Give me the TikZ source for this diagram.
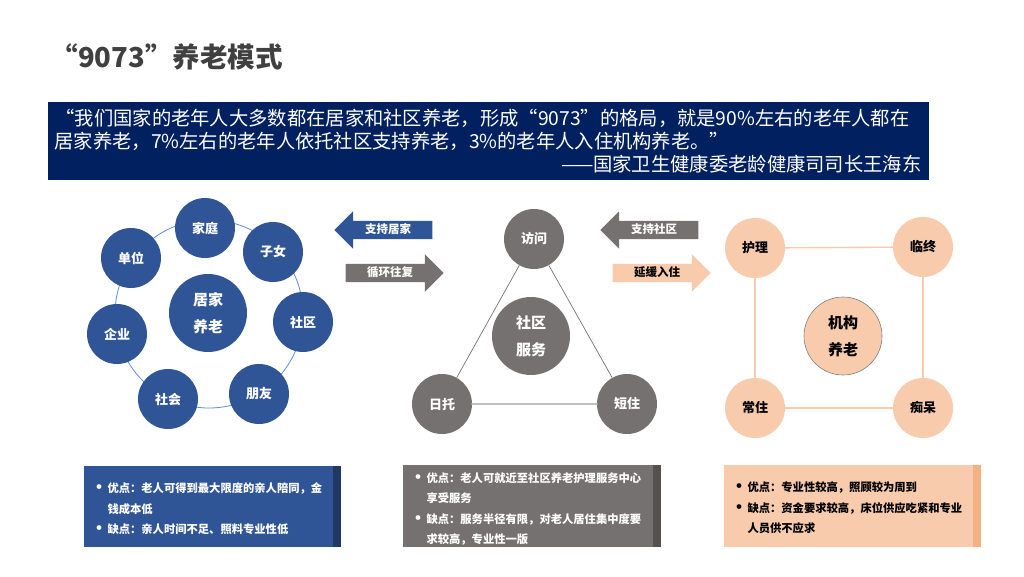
\documentclass[tikz,border=0pt]{standalone}
\usepackage{fontspec}
\setmainfont{Noto Sans CJK SC}
\usetikzlibrary{shapes.arrows}

\definecolor{navy}{HTML}{002060}
\definecolor{titlegray}{HTML}{404040}
\definecolor{homeblue}{HTML}{2F5597}
\definecolor{homedark}{HTML}{203864}
\definecolor{ringblue}{HTML}{5A8CEB}
\definecolor{commgray}{HTML}{767171}
\definecolor{commdark}{HTML}{545151}
\definecolor{commline}{HTML}{BFBFBF}
\definecolor{instpeach}{HTML}{F8CBAD}
\definecolor{instdark}{HTML}{F4B183}

\newcommand{\notebullet}{\makebox[17pt][l]{\fontsize{17}{20.5}\selectfont\raisebox{-1pt}{\textbullet}}}

\begin{document}
\begin{tikzpicture}[
    x=1pt,y=-1pt,
    line cap=round,
    line join=round,
    ball/.style={circle,inner sep=0pt,minimum size=60pt,
        font=\fontsize{13}{16}\selectfont\bfseries},
    hub/.style={circle,inner sep=0pt,minimum size=78pt,align=center,
        font=\fontsize{15}{27}\selectfont\bfseries},
    homeball/.style={ball,fill=homeblue,text=white},
    commball/.style={ball,fill=commgray,text=white},
    instball/.style={ball,fill=instpeach,text=black},
    ring/.style={draw=ringblue,line width=0.8pt},
    commedge/.style={draw=commgray,line width=0.7pt},
    commbase/.style={draw=commline,line width=2pt},
    instedge/.style={draw=instpeach,line width=1.4pt},
    flow/.style={single arrow,single arrow head extend=9.5pt,
        single arrow head indent=0pt,minimum height=98pt,
        inner xsep=0pt,inner ysep=4pt,text height=8pt,text depth=2pt,
        font=\fontsize{11.5}{14}\selectfont\bfseries},
    flowleft/.style={flow,shape border rotate=180},
    notes/.style={anchor=west,align=left,
        font=\fontsize{11.3}{20.5}\selectfont\bfseries},
]
\useasboundingbox (0,0) rectangle (1024,576);

% title and quote
\node[anchor=west,text=titlegray,font=\fontsize{27.5}{32}\selectfont\bfseries]
    (title) at (47,57) {“9073”养老模式};

\fill[navy] (48,102) rectangle (929,180);
\begin{scope}[every node/.style={text=white,font=\fontsize{19.3}{22}\selectfont}]
    \node[anchor=west] (quoteA) at (52,118)
        {“我们国家的老年人大多数都在居家和社区养老，形成“9073”的格局，就是90\%左右的老年人都在};
    \node[anchor=west] (quoteB) at (51,141)
        {居家养老，7\%左右的老年人依托社区支持养老，3\%的老年人入住机构养老。”};
    \node[anchor=east] (quoteC) at (925,164)
        {——国家卫生健康委老龄健康司司长王海东};
\end{scope}

% home care
\begin{scope}
    \draw[ring] (209,314) circle (94);

    \node[hub,fill=homeblue,text=white] (homehub) at (208,313) {居家\\养老};
    \node[homeball] (family) at (205,228) {家庭};
    \node[homeball] (kids) at (273,252) {子女};
    \node[homeball] (district) at (303,322) {社区};
    \node[homeball] (friends) at (259,394) {朋友};
    \node[homeball] (society) at (168,399) {社会};
    \node[homeball] (company) at (117,334) {企业};
    \node[homeball] (employer) at (131,258) {单位};
\end{scope}

% arrows
\node[flowleft,fill=homeblue,text=white] (backhome) at (388,230) {支持居家};
\node[flow,fill=commgray,text=white] (cycle) at (390,273) {循环往复};
\node[flowleft,fill=commgray,text=white] (backcomm) at (654,230) {支持社区};
\node[flow,fill=instpeach,text=black] (delay) at (657,273) {延缓入住};

% community care
\begin{scope}
    \node[hub,fill=commgray,text=white] (commhub) at (531,336) {社区\\服务};
    \node[commball] (visit) at (534,239) {访问};
    \node[commball] (daycare) at (442,404) {日托};
    \node[commball] (shortstay) at (627,404) {短住};

    \draw[commedge] (visit)--(daycare);
    \draw[commedge] (visit)--(shortstay);
    \draw[commbase] (daycare)--(shortstay);
\end{scope}

% institutional care
\begin{scope}
    \node[instball] (nursing) at (755,248) {护理};
    \node[instball] (hospice) at (923,247) {临终};
    \node[instball] (dementia) at (923,408) {痴呆};
    \node[instball] (longstay) at (755,408) {常住};
    \node[hub,fill=instpeach,draw=gray,line width=0.6pt,text=black]
        (insthub) at (843,336) {机构\\养老};

    \draw[instedge] (nursing)--(hospice);
    \draw[instedge] (hospice)--(dementia);
    \draw[instedge] (dementia)--(longstay);
    \draw[instedge] (longstay)--(nursing);
\end{scope}

% notes
\fill[homeblue] (84,466) rectangle (341,547);
\fill[homedark] (333,466) rectangle (341,547);
\node[notes,text=white] (homenote) at (87,509)
    {\notebullet 优点：老人可得到最大限度的亲人陪同，金\\
     \hspace*{17pt}钱成本低\\
     \notebullet 缺点：亲人时间不足、照料专业性低};

\fill[commgray] (403,465) rectangle (661,547);
\fill[commdark] (653,465) rectangle (661,547);
\node[notes,text=white] (commnote) at (406,509)
    {\notebullet 优点：老人可就近至社区养老护理服务中心\\
     \hspace*{17pt}享受服务\\
     \notebullet 缺点：服务半径有限，对老人居住集中度要\\
     \hspace*{17pt}求较高，专业性一版};

\fill[instpeach] (724,465) rectangle (981,547);
\fill[instdark] (973,465) rectangle (981,547);
\node[notes,text=black] (instnote) at (727,508)
    {\notebullet 优点：专业性较高，照顾较为周到\\
     \notebullet 缺点：资金要求较高，床位供应吃紧和专业\\
     \hspace*{17pt}人员供不应求};

\end{tikzpicture}
\end{document}
